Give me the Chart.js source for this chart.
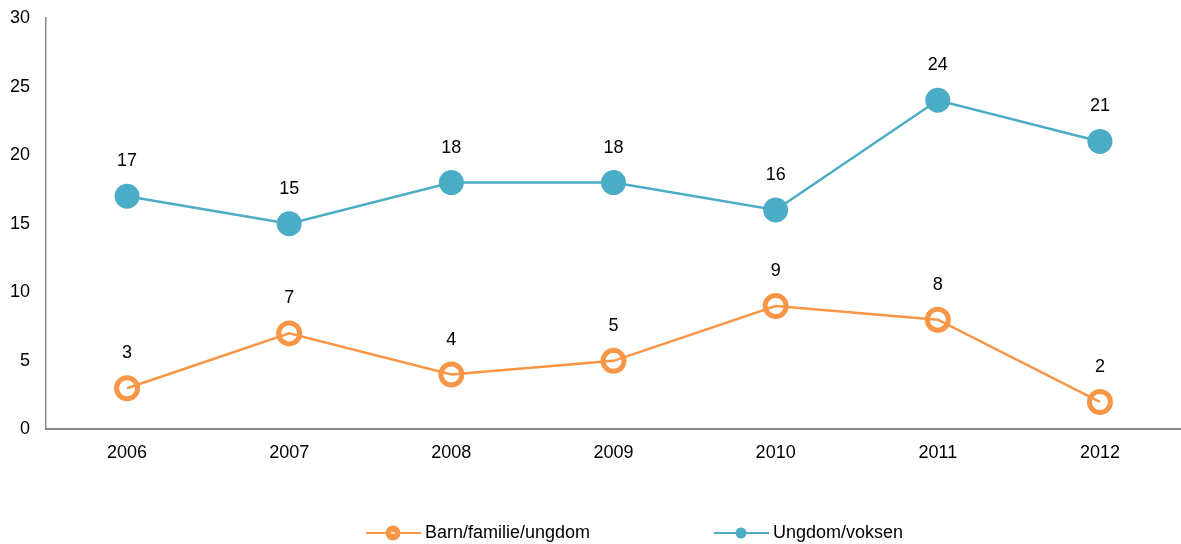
<!DOCTYPE html>
<html>
<head>
<meta charset="utf-8">
<style>
  html, body { margin: 0; padding: 0; background: #fff; }
  #wrap { width: 1181px; height: 544px; position: relative; }
</style>
<script src="https://cdn.jsdelivr.net/npm/chart.js@4.4.0/dist/chart.umd.min.js"></script>
</head>
<body>
<div id="wrap"><canvas id="chart"></canvas></div>
<script>
const years = ['2006', '2007', '2008', '2009', '2010', '2011', '2012'];
const barnFamilie = [3, 7, 4, 5, 9, 8, 2];
const ungdomVoksen = [17, 15, 18, 18, 16, 24, 21];
const yTicks = [0, 5, 10, 15, 20, 25, 30];

const ORANGE = '#F79646';
const BLUE = '#4BACC6';
const FONT = 'Liberation Sans, Arial, sans-serif';

// value labels above each point
const valueLabels = {
  id: 'valueLabels',
  afterDatasetsDraw(chart) {
    const ctx = chart.ctx;
    ctx.save();
    ctx.font = '18px ' + FONT;
    ctx.fillStyle = '#000';
    ctx.textAlign = 'center';
    ctx.textBaseline = 'middle';
    chart.data.datasets.forEach((ds, i) => {
      chart.getDatasetMeta(i).data.forEach((pt, j) => {
        ctx.fillText(ds.data[j], pt.x, pt.y - 35);
      });
    });
    ctx.restore();
  }
};

// legend: line with marker, then the label
const lineLegend = {
  id: 'lineLegend',
  afterDraw(chart) {
    const ctx = chart.ctx;
    const y = 533;
    const items = [
      { x: 366, color: ORANGE, hollow: true, text: 'Barn/familie/ungdom' },
      { x: 714, color: BLUE, hollow: false, text: 'Ungdom/voksen' }
    ];
    ctx.save();
    ctx.font = '18px ' + FONT;
    ctx.textBaseline = 'middle';
    items.forEach(it => {
      ctx.strokeStyle = it.color;
      ctx.lineWidth = 2;
      ctx.beginPath();
      ctx.moveTo(it.x, y);
      ctx.lineTo(it.x + 55, y);
      ctx.stroke();
      ctx.beginPath();
      if (it.hollow) {
        ctx.arc(it.x + 27, y, 7.5, 0, Math.PI * 2);
        ctx.fillStyle = it.color;
        ctx.fill();
        ctx.fillStyle = '#fde0c8';
        ctx.fillRect(it.x + 25, y - 1, 4, 2);
      } else {
        ctx.arc(it.x + 27, y, 5.5, 0, Math.PI * 2);
        ctx.fillStyle = it.color;
        ctx.fill();
      }
      ctx.fillStyle = '#000';
      ctx.fillText(it.text, it.x + 59, y);
    });
    ctx.restore();
  }
};

new Chart(document.getElementById('chart'), {
  type: 'line',
  data: {
    labels: years,
    datasets: [
      {
        label: 'Barn/familie/ungdom',
        data: barnFamilie,
        borderColor: ORANGE,
        borderWidth: 2.5,
        backgroundColor: 'rgba(255,255,255,0)',
        pointBorderColor: ORANGE,
        pointBackgroundColor: 'rgba(255,255,255,0)',
        pointBorderWidth: 5,
        pointRadius: 10.5,
        tension: 0
      },
      {
        label: 'Ungdom/voksen',
        data: ungdomVoksen,
        borderColor: BLUE,
        borderWidth: 2.5,
        backgroundColor: BLUE,
        pointBorderColor: BLUE,
        pointBackgroundColor: BLUE,
        pointBorderWidth: 0,
        pointRadius: 12.5,
        tension: 0
      }
    ]
  },
  options: {
    responsive: true,
    maintainAspectRatio: false,
    animation: false,
    layout: { autoPadding: false, padding: { top: 18, right: 0, bottom: 67, left: 0 } },
    plugins: {
      legend: { display: false },
      tooltip: { enabled: false }
    },
    scales: {
      x: {
        offset: true,
        grid: { display: false, drawTicks: false },
        border: { color: '#888', width: 2 },
        ticks: { color: '#000', font: { family: FONT, size: 18 }, padding: 13 }
      },
      y: {
        min: 0,
        max: 30,
        afterBuildTicks(scale) { scale.ticks = yTicks.map(v => ({ value: v })); },
        afterFit(scale) {
          scale.width = 46;
          scale.paddingTop = 0;
          scale.paddingBottom = 0;
        },
        grid: { display: false, drawTicks: false },
        border: { color: '#888', width: 1.5 },
        ticks: { color: '#000', font: { family: FONT, size: 18 }, padding: 16 }
      }
    }
  },
  plugins: [valueLabels, lineLegend]
});
</script>
</body>
</html>
